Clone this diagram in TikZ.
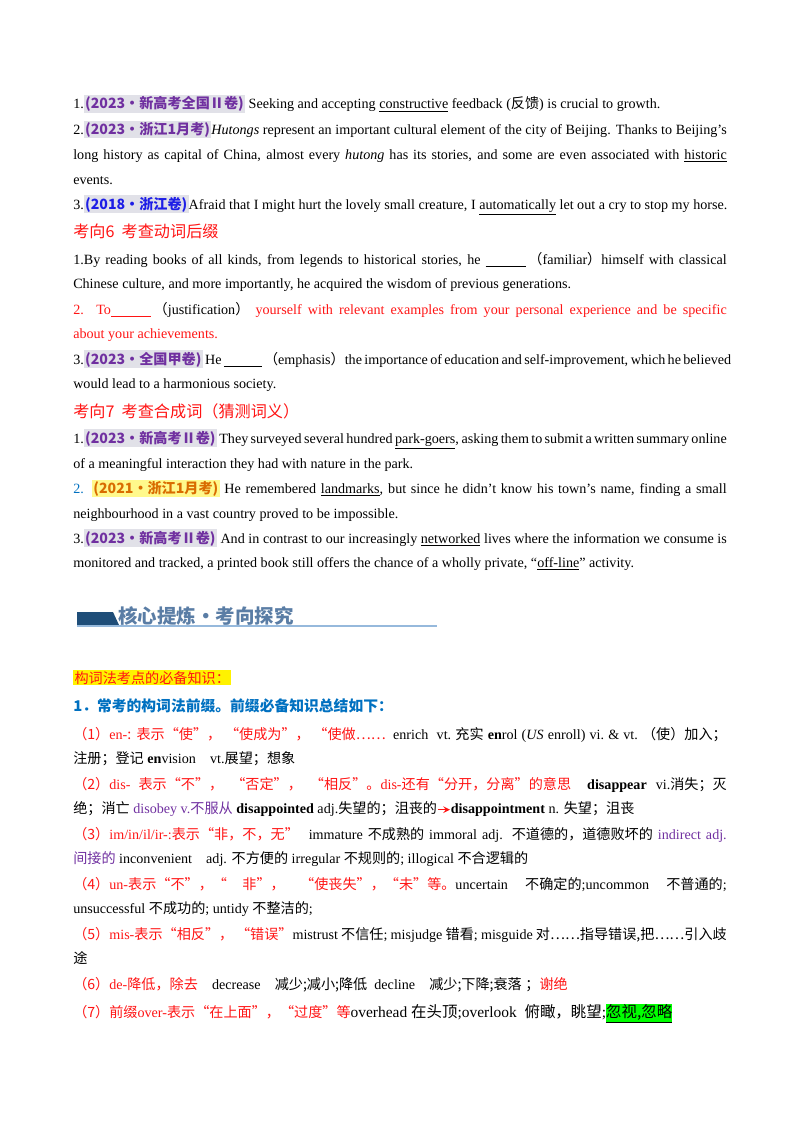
\documentclass[tikz,border=0pt]{standalone}
\usepackage{fontspec}
\setmainfont{Liberation Serif}
\newfontfamily\zh{Noto Sans CJK SC}
\usepackage{xcolor}
\definecolor{myred}{RGB}{255,20,20}
\definecolor{mypurple}{RGB}{112,48,160}
\definecolor{myblue}{RGB}{30,30,230}
\definecolor{hblue}{RGB}{0,112,192}
\definecolor{labgray}{RGB}{225,225,232}
\definecolor{bar}{RGB}{31,78,121}
\definecolor{htext}{RGB}{90,125,165}
\definecolor{hline}{RGB}{150,185,220}
\newcommand{\src}[2][mypurple]{\colorbox{labgray}{\color{#1}\bfseries\zh(#2)}}
\newcommand{\jus}[1]{\makebox[486pt][s]{#1}}
\newcommand{\redarrow}{\tikz[baseline=-2.5pt]\draw[myred,line width=1.2pt,-stealth](0,0)--(9pt,0);}
\setlength{\fboxsep}{1pt}
\tikzset{ln/.style={anchor=base west,inner sep=0pt,font=\fontsize{10.5}{12}\selectfont}}
\begin{document}
\begin{tikzpicture}[x=0.7437pt,y=-0.7437pt]
\useasboundingbox (0,0) rectangle (800,1132);
\node[ln] (a1) at (73,109) {1.\src{2023·新高考全国Ⅱ卷} Seeking and accepting \underline{constructive} feedback ({\zh 反馈}) is crucial to growth.};
\node[ln] (a2) at (73,134) {\jus{2.\src{2023·浙江1月考}\textit{Hutongs} represent an important cultural element of the city of Beijing. Thanks to Beijing’s}};
\node[ln] (a3) at (73,159) {\jus{long history as capital of China, almost every \textit{hutong} has its stories, and some are even associated with \underline{historic}}};
\node[ln] (a4) at (73,184) {events.};
\node[ln] (a5) at (73,209) {3.\src[myblue]{2018·浙江卷}Afraid that I might hurt the lovely small creature, I \underline{automatically} let out a cry to stop my horse.};
\node[ln,font=\fontsize{12}{14}\selectfont\zh,text=myred] (h6) at (73,237) {考向6\ \ 考查动词后缀};
\node[ln] (b1) at (73,264) {\jus{1.By reading books of all kinds, from legends to historical stories, he \underline{\hspace{30pt}}\,{\zh （}familiar{\zh ）}himself with classical}};
\node[ln] (b2) at (73,288) {Chinese culture, and more importantly, he acquired the wisdom of previous generations.};
\node[ln] (b3) at (73,314) {\jus{\color{myred}2. To\underline{\hspace{30pt}}\,{\color{black}{\zh （}justification{\zh ）}} yourself with relevant examples from your personal experience and be specific}};
\node[ln,text=myred] (b4) at (73,338) {about your achievements.};
\node[ln] (b5) at (73,364) {\jus{3.\src{2023·全国甲卷} He \underline{\hspace{28pt}}\,{\zh （}emphasis{\zh ）}the importance of education and self-improvement, which he believed}};
\node[ln] (b6) at (73,388) {would lead to a harmonious society.};
\node[ln,font=\fontsize{12}{14}\selectfont\zh,text=myred] (h7) at (73,417) {考向7\ \ 考查合成词（猜测词义）};
\node[ln] (c1) at (73,443) {\jus{1.\src{2023·新高考Ⅱ卷} They surveyed several hundred \underline{park-goers}, asking them to submit a written summary online}};
\node[ln] (c2) at (73,468) {of a meaningful interaction they had with nature in the park.};
\node[ln] (c3) at (73,493) {\jus{{\color{hblue}2.} {\colorbox{yellow!45}{\color{orange!85!black}\bfseries\zh(2021·浙江1月考)}} He remembered \underline{landmarks}, but since he didn’t know his town’s name, finding a small}};
\node[ln] (c4) at (73,518) {neighbourhood in a vast country proved to be impossible.};
\node[ln] (c5) at (73,543) {\jus{3.\src{2023·新高考Ⅱ卷} And in contrast to our increasingly \underline{networked} lives where the information we consume is}};
\node[ln] (c6) at (73,567) {monitored and tracked, a printed book still offers the chance of a wholly private, “\underline{off-line}” activity.};
% header
\fill[bar] (77,612) -- (113,612) -- (119,625) -- (77,625) -- cycle;
\draw[hline,line width=0.8pt] (77,626) -- (437,626);
\node[ln,font=\fontsize{14.5}{16}\selectfont\zh\bfseries,text=htext] (hd) at (118,623) {核心提炼·考向探究};
\node[ln,font=\fontsize{10.5}{12}\selectfont\zh] (k0) at (73,683) {\colorbox{yellow}{\color{myred}构词法考点的必备知识：}};
\node[ln,font=\fontsize{11}{13}\selectfont\zh\bfseries,text=hblue] (k1) at (73,711) {1．常考的构词法前缀。前缀必备知识总结如下：};
\node[ln] (d1) at (73,739) {\jus{\color{myred}\zh （1）{\rmfamily en-}: 表示“使”，\ “使成为”，\ “使做……\ \ {\color{black}\rmfamily enrich\ \ vt.\ {\zh 充实} \textbf{en}rol (\textit{US} enroll) vi.\ \&\ vt.\ {\zh （使）加入；}}}};
\node[ln] (d2) at (73,763) {{\zh 注册；登记} \textbf{en}vision\quad vt.{\zh 展望；想象}};
\node[ln] (d3) at (73,789) {\jus{\color{myred}\zh （2）{\rmfamily dis-} 表示“不”，\ “否定”，\ “相反”。{\rmfamily dis-}还有“分开，分离”的意思\ \ {\color{black}\rmfamily\textbf{disappear} vi.{\zh 消失；灭}}}};
\node[ln] (d4) at (73,813) {{\zh 绝；消亡} {\color{mypurple}disobey v.{\zh 不服从}} \textbf{disappointed} adj.{\zh 失望的；沮丧的}\redarrow\textbf{disappointment} n. {\zh 失望；沮丧}};
\node[ln] (d5) at (73,839) {\jus{\color{myred}{\zh （3）}im/in/il/ir-:{\zh 表示“非，不，无”}\ \ {\color{black}immature {\zh 不成熟的} immoral adj. {\zh 不道德的，道德败坏的}} {\color{mypurple}indirect adj.}}};
\node[ln] (d6) at (73,863) {{\color{mypurple}\zh 间接的} inconvenient\quad adj. {\zh 不方便的} irregular {\zh 不规则的}; illogical {\zh 不合逻辑的}};
\node[ln] (d7) at (73,889) {\jus{\color{myred}{\zh （4）}un-{\zh 表示“不”，“\ 非”，\ “使丧失”，“未”等。}{\color{black}uncertain {\zh 不确定的};uncommon {\zh 不普通的};}}};
\node[ln] (d8) at (73,913) {unsuccessful {\zh 不成功的}; untidy {\zh 不整洁的};};
\node[ln] (d9) at (73,939) {\jus{\color{myred}{\zh （5）}mis-{\zh 表示“相反”，\ “错误”}{\color{black}mistrust {\zh 不信任}; misjudge {\zh 错看}; misguide {\zh 对……指导错误,把……引入歧}}}};
\node[ln] (d10) at (73,963) {\zh 途};
\node[ln] (d11) at (73,989) {{\color{myred}{\zh （6）}de-{\zh 降低，除去}}\quad decrease\quad {\zh 减少;减小;降低}\ \ decline\quad {\zh 减少;下降;衰落}\ {\zh ；}{\color{myred}\zh 谢绝}};
\node[ln] (d12) at (73,1017) {\color{myred}{\zh （7）前缀}over-{\zh 表示“在上面”，“过度”等}{\color{black}\fontsize{11.5}{13}\selectfont overhead {\zh 在头顶};overlook\ \ {\zh 俯瞰，眺望};{\setlength{\fboxsep}{0pt}\colorbox{green}{\zh\underline{忽视,忽略}}}}};
\end{tikzpicture}
\end{document}
